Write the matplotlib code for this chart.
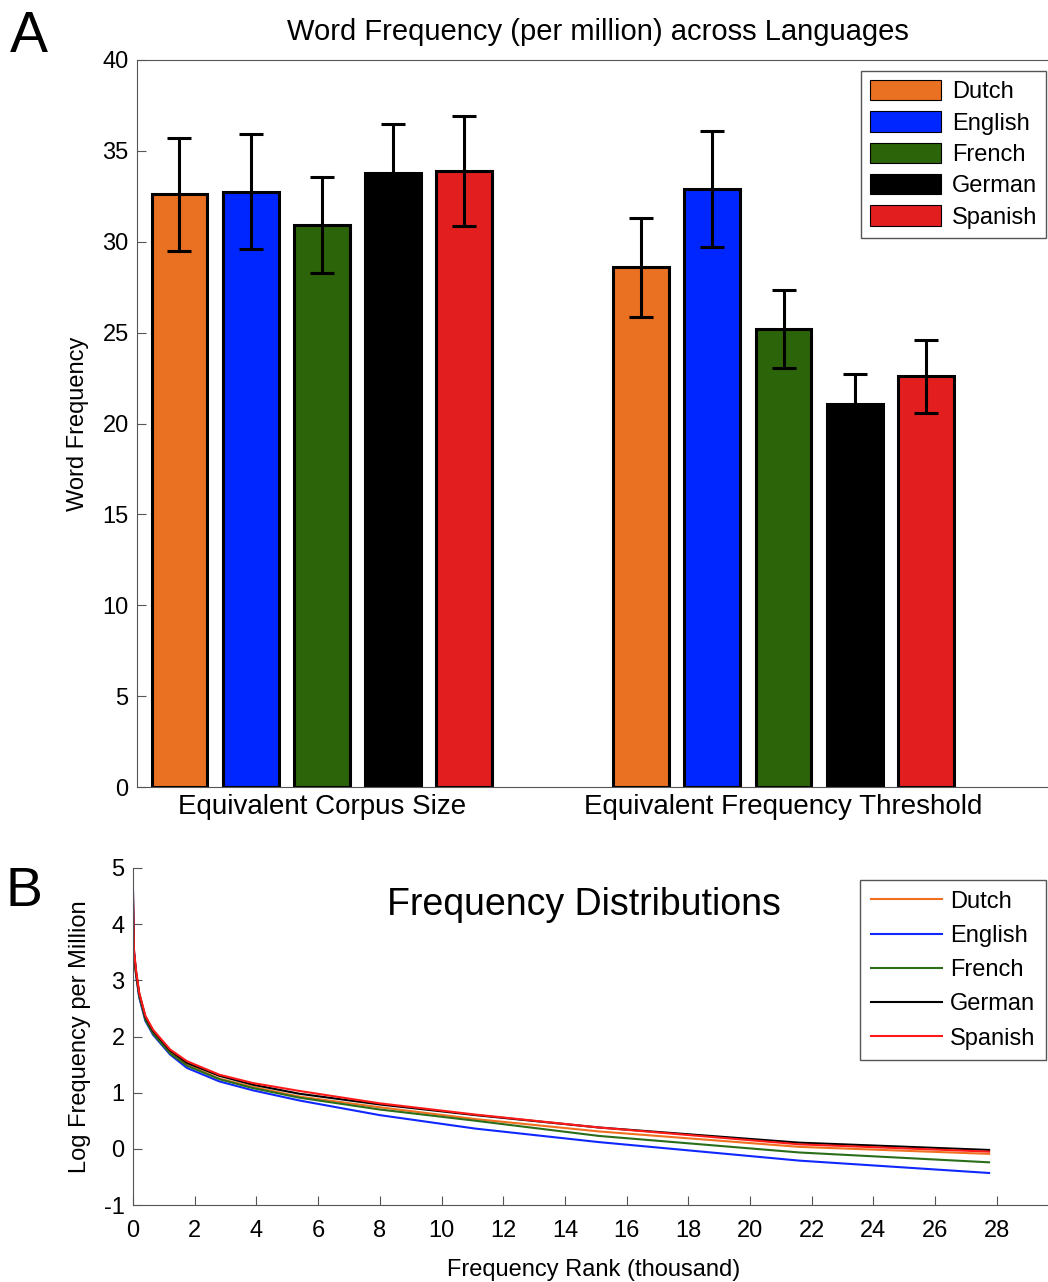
import numpy as np
import matplotlib.pyplot as plt

plt.rcParams['font.family'] = ['Liberation Sans', 'DejaVu Sans']
plt.rcParams['axes.unicode_minus'] = False

# panel A data
languages = ['Dutch', 'English', 'French', 'German', 'Spanish']
conditions = ['Equivalent Corpus Size', 'Equivalent Frequency Threshold']
corpus_mean = [32.6, 32.75, 30.9, 33.8, 33.9]
corpus_err = [3.1, 3.17, 2.64, 2.7, 3.02]
threshold_mean = [28.6, 32.9, 25.2, 21.05, 22.6]
threshold_err = [2.73, 3.18, 2.14, 1.68, 2.0]

# panel B data (rank in thousands, log frequency per million)
rank = [0.001, 0.03, 0.1, 0.2, 0.4, 0.65, 1.2, 1.75, 2.8, 3.9, 5.4, 8.0, 11.1, 15.1, 21.6, 27.75]
dutch_freq = [4.3, 3.5, 3.12, 2.75, 2.33, 2.08, 1.72, 1.5, 1.25, 1.1, 0.93, 0.74, 0.53, 0.31, 0.035, -0.09]
english_freq = [4.6, 3.55, 3.1, 2.7, 2.28, 2.03, 1.68, 1.44, 1.2, 1.04, 0.86, 0.6, 0.36, 0.12, -0.21, -0.43]
french_freq = [4.0, 3.4, 3.1, 2.72, 2.3, 2.05, 1.7, 1.48, 1.24, 1.08, 0.91, 0.7, 0.5, 0.23, -0.065, -0.24]
german_freq = [4.4, 3.5, 3.15, 2.77, 2.35, 2.1, 1.75, 1.53, 1.3, 1.14, 0.98, 0.79, 0.6, 0.38, 0.11, -0.02]
spanish_freq = [4.55, 3.55, 3.17, 2.78, 2.37, 2.12, 1.77, 1.56, 1.32, 1.17, 1.03, 0.81, 0.61, 0.38, 0.08, -0.05]

bar_colors = ['#EA7022', '#0026FF', '#2C6409', '#000000', '#E31E1E']
line_colors = ['#F07020', '#1028FF', '#2A6E1A', '#000000', '#FF1A1A']

W, H = 1048, 1282
fig = plt.figure(figsize=(W / 100, H / 100), dpi=100)

# ---- panel A ----
ax1 = fig.add_axes([137 / W, 495 / H, 923.6 / W, 727 / H])
x = np.arange(1, 3)
offsets = (np.arange(5) - 2) * 0.154
for i, lang in enumerate(languages):
    vals = [corpus_mean[i], threshold_mean[i]]
    errs = [corpus_err[i], threshold_err[i]]
    ax1.bar(x + offsets[i], vals, width=0.121, color=bar_colors[i],
            edgecolor='black', linewidth=2.2, label=lang, zorder=2)
    ax1.errorbar(x + offsets[i], vals, yerr=errs, fmt='none', ecolor='black',
                 elinewidth=2.2, capsize=8.3, capthick=2.2, zorder=3)

ax1.set_xlim(0.6, 2.6)
ax1.set_ylim(0, 40)
ax1.set_yticks(np.arange(0, 41, 5))
ax1.set_xticks(x, conditions)
ax1.tick_params(axis='x', length=0, pad=5, labelsize=20)
ax1.tick_params(axis='y', direction='in', length=6.5, pad=6, labelsize=17, color='#555555')
for s in ax1.spines.values():
    s.set_color('#555555')

leg1 = ax1.legend(loc='upper right', bbox_to_anchor=(1046 / W, 1 - 71 / H),
                  bbox_transform=fig.transFigure, borderaxespad=0, fontsize=17,
                  fancybox=False, framealpha=1, edgecolor='#555555',
                  handlelength=3.0, handleheight=0.95, handletextpad=0.45,
                  labelspacing=0.34, borderpad=0.38)
for p in leg1.get_patches():
    p.set_linewidth(0.8)

fig.text(598 / W, 1 - 40 / H, 'Word Frequency (per million) across Languages',
         ha='center', va='baseline', fontsize=21)
fig.text(78 / W, 1 - 424 / H, 'Word Frequency', rotation=90,
         ha='center', va='center', fontsize=17)
fig.text(10 / W, 1 - 52 / H, 'A', fontsize=41, va='baseline')

# ---- panel B ----
ax2 = fig.add_axes([133 / W, 77 / H, 925.5 / W, 337 / H])
series = [dutch_freq, english_freq, french_freq, german_freq, spanish_freq]
for i, lang in enumerate(languages):
    ax2.plot(rank, series[i], color=line_colors[i], linewidth=1.5, label=lang)

ax2.set_xlim(0, 30)
ax2.set_ylim(-1, 5)
ax2.set_xticks(np.arange(0, 29, 2))
ax2.set_yticks(np.arange(-1, 6, 1))
ax2.tick_params(axis='both', direction='in', length=6.5, labelsize=17, color='#555555')
ax2.tick_params(axis='x', pad=11)
ax2.tick_params(axis='y', pad=6)
ax2.spines['top'].set_visible(False)
ax2.spines['right'].set_visible(False)
for s in ax2.spines.values():
    s.set_color('#555555')

leg2 = ax2.legend(loc='upper right', bbox_to_anchor=(1046 / W, 1 - 880 / H),
                  bbox_transform=fig.transFigure, borderaxespad=0, fontsize=17,
                  fancybox=False, framealpha=1, edgecolor='#555555',
                  handlelength=3.0, handletextpad=0.35, labelspacing=0.52,
                  borderpad=0.45)

ax2.text((584 - 133) / 925.5, (1205 - 915) / 337, 'Frequency Distributions',
         transform=ax2.transAxes, ha='center', va='baseline', fontsize=27)
fig.text(594 / W, 1 - 1270 / H, 'Frequency Rank (thousand)',
         ha='center', va='center', fontsize=17)
fig.text(80 / W, 1 - 1037 / H, 'Log Frequency per Million', rotation=90,
         ha='center', va='center', fontsize=17)
fig.text(6 / W, 1 - 906 / H, 'B', fontsize=40, va='baseline')

fig.savefig('out.png', dpi=100)
